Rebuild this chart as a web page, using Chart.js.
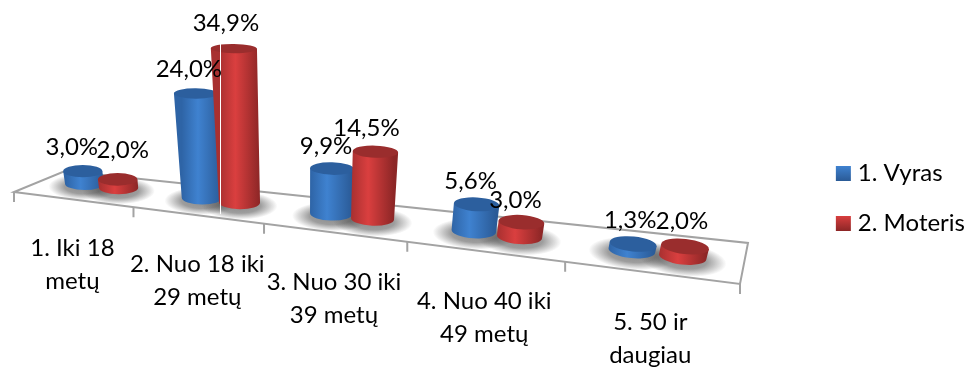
<!DOCTYPE html>
<html>
<head>
<meta charset="utf-8">
<style>
    html, body { margin: 0; background: #fff; }
    #wrap { width: 971px; height: 367px; }
</style>
<script src="https://cdn.jsdelivr.net/npm/chart.js@4"></script>
</head>
<body>
<div id="wrap"><canvas id="chart"></canvas></div>
<script>
const categories = [
    ['1. Iki 18', 'metų'],
    ['2. Nuo 18 iki', '29 metų'],
    ['3. Nuo 30 iki', '39 metų'],
    ['4. Nuo 40 iki', '49 metų'],
    ['5. 50 ir', 'daugiau']
];
const vyras = [3.0, 24.0, 9.9, 5.6, 1.3];
const moteris = [2.0, 34.9, 14.5, 3.0, 2.0];

const FONT = 'Lato, "Open Sans", sans-serif';
const FONT_SIZE = 24;

// Floor outline: front-left, front-right, back-right, back-left
const FLOOR = [[14, 192], [740, 284], [748, 243], [65, 171]];
const FORESHORTEN = -0.212;
const LEAN_X = 300;
const SWATCH = 15;

// Where each value label sits relative to its cylinder top, per series
const LABEL_SHIFT = [
    [[-11, -16], [-7, -17], [-6, -15], [-6, -15], [-3, -16]],
    [[5, -21], [-8, -18], [-9, -16], [-6, -14], [-3, -18]]
];

const SKINS = [
    { side: ['#2e64a6', '#3f82d0', '#2a5a96'], top: '#2c5f9e', legend: ['#3f82d0', '#2a5a96'] },
    { side: ['#a83030', '#da3f3f', '#8c2626'], top: '#9a2d2d', legend: ['#d83e3e', '#8c2626'] }
];

function lerp(a, b, t) {
    return [a[0] + (b[0] - a[0]) * t, a[1] + (b[1] - a[1]) * t];
}

// u runs along the front edge, v from the front edge to the back edge
function floorPoint(u, v) {
    const t = u * (1 + FORESHORTEN) / (1 + FORESHORTEN * u);
    return lerp(lerp(FLOOR[0], FLOOR[1], t), lerp(FLOOR[3], FLOOR[2], t), v);
}

// The row of cylinders drifts towards the front edge as it goes right
function barRow(u) {
    return 0.62 - 0.14 * u;
}

function drawFloor(ctx, tickUs) {
    ctx.save();
    ctx.strokeStyle = '#a3a3a3';
    ctx.lineWidth = 2;
    ctx.beginPath();
    FLOOR.forEach((p, i) => i ? ctx.lineTo(p[0], p[1]) : ctx.moveTo(p[0], p[1]));
    ctx.closePath();
    ctx.stroke();
    ctx.beginPath();
    tickUs.forEach(u => {
        const p = floorPoint(u, 0);
        ctx.moveTo(p[0], p[1]);
        ctx.lineTo(p[0], p[1] + 10);
    });
    ctx.stroke();
    ctx.restore();
}

// Turns a bar element of the flat chart into a standing cylinder
function cylinderFrom(bar, area) {
    const u = (bar.x - area.left) / area.width;
    const du = bar.width / 2 / area.width;
    const left = floorPoint(u - du, barRow(u));
    const right = floorPoint(u + du, barRow(u));
    // how wide a category looks here compared with the average one
    const spread = Math.sqrt((floorPoint(u + 0.1, 0)[0] - floorPoint(u - 0.1, 0)[0]) / 145);
    const rise = (bar.base - bar.y) * spread;
    const cx = (left[0] + right[0]) / 2;
    const cy = (left[1] + right[1]) / 2;
    const rx = 21.5 * spread;
    const ry = 7 * spread;
    return {
        cx, cy, rx, ry, rise,
        // discs only tip visibly towards the right end of the floor
        rot: Math.atan2(right[1] - left[1], right[0] - left[0]) * u * u * 1.1,
        topX: cx + (cx - LEAN_X) * rise * 0.0006,
        topY: cy - rise,
        topRx: rx * (1 + rise * 0.0008),
        topRy: ry * (1 - rise * 0.002)
    };
}

function drawShadow(ctx, c) {
    ctx.save();
    ctx.translate(c.cx, c.cy + 3);
    ctx.rotate(c.rot);
    ctx.scale(c.rx * 1.85, c.ry * 2.1);
    const g = ctx.createRadialGradient(0, 0, 0, 0, 0, 1);
    g.addColorStop(0, 'rgba(60,60,60,0.6)');
    g.addColorStop(0.55, 'rgba(60,60,60,0.5)');
    g.addColorStop(1, 'rgba(60,60,60,0)');
    ctx.fillStyle = g;
    ctx.beginPath();
    ctx.arc(0, 0, 1, 0, Math.PI * 2);
    ctx.fill();
    ctx.restore();
}

function drawCylinder(ctx, c, skin) {
    const cosR = Math.cos(c.rot);
    const sinR = Math.sin(c.rot);
    const g = ctx.createLinearGradient(c.cx - c.rx, 0, c.cx + c.rx, 0);
    g.addColorStop(0, skin.side[0]);
    g.addColorStop(0.4, skin.side[1]);
    g.addColorStop(1, skin.side[2]);
    ctx.fillStyle = g;
    ctx.beginPath();
    ctx.moveTo(c.topX - c.topRx * cosR, c.topY - c.topRx * sinR);
    ctx.lineTo(c.cx - c.rx * cosR, c.cy - c.rx * sinR);
    ctx.ellipse(c.cx, c.cy, c.rx, c.ry, c.rot, Math.PI, 0, true);
    ctx.lineTo(c.topX + c.topRx * cosR, c.topY + c.topRx * sinR);
    ctx.closePath();
    ctx.fill();
    ctx.fillStyle = skin.top;
    ctx.beginPath();
    ctx.ellipse(c.topX, c.topY, c.topRx, c.topRy, c.rot, 0, Math.PI * 2);
    ctx.fill();
}

// The flat bar chart only supplies geometry, this plugin stands it up on the floor
const cylinderFloor = {
    id: 'cylinderFloor',
    beforeDatasetsDraw(chart) {
        const ctx = chart.ctx;
        const area = chart.chartArea;
        const xScale = chart.scales.x;
        const count = categories.length;
        const tickUs = [];
        for (let i = 0; i <= count; i++) tickUs.push(i / count);
        drawFloor(ctx, tickUs);

        const metas = chart.data.datasets.map((d, i) => chart.getDatasetMeta(i));
        const cylinders = metas.map(meta => meta.data.map(bar => cylinderFrom(bar, area)));

        cylinders.forEach(list => list.forEach(c => drawShadow(ctx, c)));
        for (let i = 0; i < count; i++) {
            cylinders.forEach((list, s) => drawCylinder(ctx, list[i], SKINS[s]));
        }

        // thin light seam running down the tallest pair
        const tallest = moteris.indexOf(Math.max(...moteris));
        const seamU = (xScale.getPixelForTick(tallest) - area.left) / area.width;
        const seam = floorPoint(seamU, barRow(seamU));
        ctx.save();
        ctx.strokeStyle = '#ffffff';
        ctx.lineWidth = 1;
        ctx.beginPath();
        ctx.moveTo(Math.round(seam[0]) + 0.5, cylinders[1][tallest].topY - 5);
        ctx.lineTo(Math.round(seam[0]) + 0.5, seam[1] + 14);
        ctx.stroke();
        ctx.restore();

        ctx.save();
        ctx.fillStyle = '#000';
        ctx.font = `${FONT_SIZE}px ${FONT}`;
        ctx.textAlign = 'center';
        ctx.textBaseline = 'alphabetic';
        categories.forEach((lines, i) => {
            const u = (xScale.getPixelForTick(i) - area.left) / area.width;
            const p = floorPoint(u, 0);
            lines.forEach((line, n) => ctx.fillText(line, p[0], p[1] + 57 + n * 33));
        });
        cylinders.forEach((list, s) => list.forEach((c, i) => {
            const text = chart.data.datasets[s].data[i].toFixed(1).replace('.', ',') + '%';
            const shift = LABEL_SHIFT[s][i];
            ctx.fillText(text, c.topX + shift[0], c.topY + shift[1]);
        }));
        ctx.restore();
        return false;
    },
    afterDraw(chart) {
        // legend swatches get the same top-lit shading as the cylinders
        const ctx = chart.ctx;
        chart.legend.legendHitBoxes.forEach((hit, i) => {
            const y = hit.top + (hit.height - SWATCH) / 2;
            const g = ctx.createLinearGradient(0, y, 0, y + SWATCH);
            g.addColorStop(0, SKINS[i].legend[0]);
            g.addColorStop(1, SKINS[i].legend[1]);
            ctx.fillStyle = g;
            ctx.fillRect(hit.left, y, SWATCH, SWATCH);
        });
    }
};

new Chart(document.getElementById('chart'), {
    type: 'bar',
    data: {
        labels: categories,
        datasets: [
            { label: '1. Vyras', data: vyras, backgroundColor: 'rgba(0,0,0,0)' },
            { label: '2. Moteris', data: moteris, backgroundColor: 'rgba(0,0,0,0)' }
        ]
    },
    options: {
        responsive: true,
        maintainAspectRatio: false,
        animation: false,
        layout: { padding: { top: 30, right: -4 } },
        categoryPercentage: 0.6,
        barPercentage: 1,
        scales: {
            x: { display: false },
            y: { display: false, min: 0, max: 73 }
        },
        plugins: {
            legend: {
                position: 'right',
                labels: {
                    boxWidth: 10,
                    boxHeight: 15,
                    padding: 26,
                    color: '#000',
                    font: { family: FONT, size: FONT_SIZE }
                }
            },
            tooltip: { enabled: false }
        }
    },
    plugins: [cylinderFloor]
});
</script>
</body>
</html>
